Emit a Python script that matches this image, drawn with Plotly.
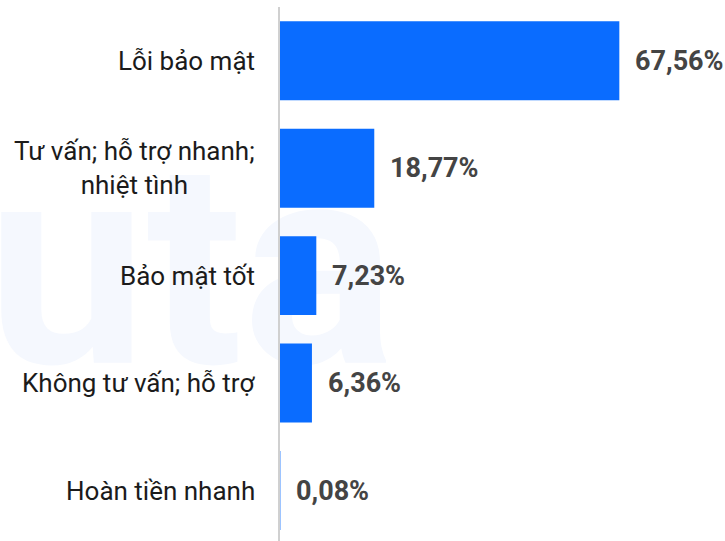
import plotly.graph_objects as go

categories = ["Lỗi bảo mật", "Tư vấn; hỗ trợ nhanh;<br>nhiệt tình", "Bảo mật tốt",
              "Không tư vấn; hỗ trợ", "Hoàn tiền nhanh"]
values = [67.56, 18.77, 7.23, 6.36, 0.08]
value_labels = ["67,56%", "18,77%", "7,23%", "6,36%", "0,08%"]

BAR_COLOR = "#0A6CFF"
FONT = "Roboto"

fig = go.Figure()
fig.add_trace(go.Bar(
    x=values, y=categories, orientation="h",
    marker=dict(color=BAR_COLOR, line=dict(width=0)),
    hoverinfo="skip",
))

annotations = []
for c, v, t in zip(categories, values, value_labels):
    annotations.append(dict(
        x=v, y=c, xref="x", yref="y", text=t, showarrow=False,
        xanchor="left", yanchor="middle", xshift=14,
        font=dict(family=FONT, size=27, color="#444444", weight="bold"),
    ))
    annotations.append(dict(
        x=0, y=c, xref="paper", yref="y", text=c, showarrow=False,
        xanchor="right", yanchor="middle", xshift=-23, align="center",
        font=dict(family=FONT, size=26, color="#1b1b1b"),
    ))

fig.update_layout(
    width=725, height=541,
    margin=dict(l=280, r=0, t=7, b=0),
    paper_bgcolor="white",
    plot_bgcolor="rgba(0,0,0,0)",
    showlegend=False,
    bargap=0.265,
    annotations=annotations,
    shapes=[dict(
        type="rect", xref="paper", yref="paper",
        x0=-0.52, x1=0.12, y0=0.32, y1=0.79,
        line=dict(width=0), fillcolor="rgba(0,0,0,0)", layer="below",
        label=dict(text="uta", textposition="middle center",
                   font=dict(family=FONT, size=285, color="#F5F8FE", weight="bold")),
    )],
    xaxis=dict(range=[0, 88.6], visible=False, fixedrange=True),
    yaxis=dict(
        type="category", categoryarray=categories, range=[4.47, -0.5],
        showticklabels=False, ticks="", showgrid=False, zeroline=False,
        showline=True, linecolor="#D0D0D0", linewidth=2, fixedrange=True,
    ),
)

fig.write_html(
    "out.html",
    config={"displayModeBar": False, "staticPlot": True},
    post_script="document.body.style.margin='0';document.body.style.padding='0';",
)
